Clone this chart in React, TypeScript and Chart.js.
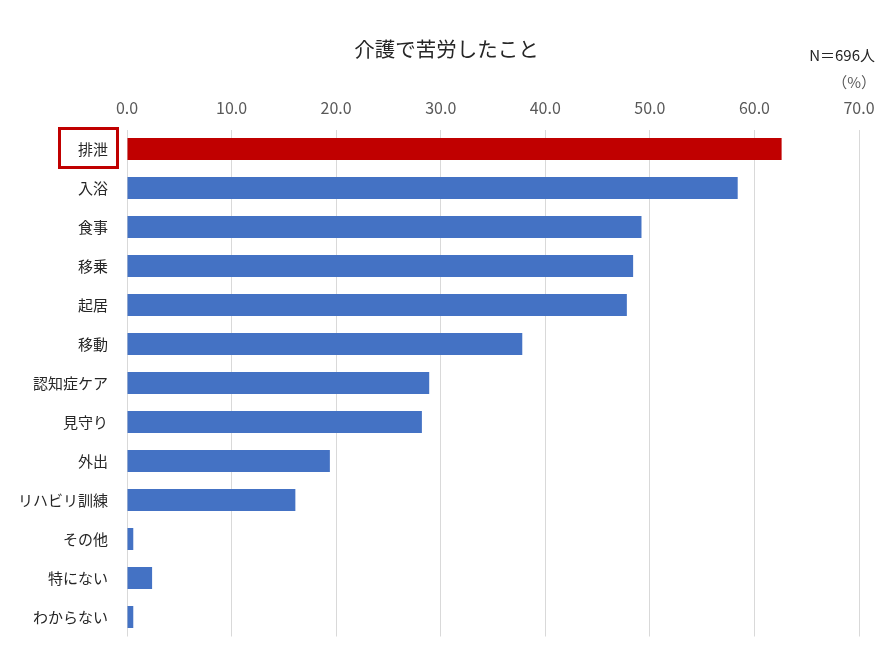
import React, { useEffect, useRef } from "react";
import { Chart, registerables } from "chart.js";

Chart.register(...registerables);

const categories = [
  "排泄",
  "入浴",
  "食事",
  "移乗",
  "起居",
  "移動",
  "認知症ケア",
  "見守り",
  "外出",
  "リハビリ訓練",
  "その他",
  "特にない",
  "わからない",
];
const values = [62.6, 58.4, 49.2, 48.4, 47.8, 37.8, 28.9, 28.2, 19.4, 16.1, 0.6, 2.4, 0.6];
const highlightIndex = 0;
const xMin = 0;
const xMax = 70;
const xStep = 10;
const chartTitle = "介護で苦労したこと";
const sampleNote = "N＝696人";
const unitNote = "（%）";

const FONT = "'Noto Sans CJK JP', 'Noto Sans', sans-serif";
const BLUE = "#4472C4";
const RED = "#C00000";

const overlayPlugin = {
  id: "overlay",
  afterDraw(chart: any) {
    const ctx = chart.ctx;
    const area = chart.chartArea;
    const yScale = chart.scales.y;
    ctx.save();
    // title
    ctx.fillStyle = "#262626";
    ctx.font = `20.5px ${FONT}`;
    ctx.textAlign = "center";
    ctx.textBaseline = "middle";
    ctx.fillText(chartTitle, chart.width / 2, 49);
    // N note
    ctx.font = `15px ${FONT}`;
    ctx.textAlign = "right";
    ctx.fillStyle = "#262626";
    ctx.fillText(sampleNote, 875, 55);
    ctx.fillStyle = "#595959";
    ctx.fillText(unitNote, 876, 82);
    // highlight box around category label
    const cy = yScale.getPixelForValue(highlightIndex);
    ctx.strokeStyle = RED;
    ctx.lineWidth = 3;
    ctx.strokeRect(area.left - 67.5, cy - 20.5, 58, 39);
    ctx.restore();
  },
};

export default function App() {
  const ref = useRef<HTMLCanvasElement | null>(null);
  useEffect(() => {
    if (!ref.current) return;
    const chart = new Chart(ref.current, {
      type: "bar",
      data: {
        labels: categories,
        datasets: [
          {
            data: values,
            backgroundColor: values.map((_, i) => (i === highlightIndex ? RED : BLUE)),
            categoryPercentage: 1,
            barPercentage: 0.565,
          },
        ],
      },
      options: {
        indexAxis: "y",
        animation: false,
        responsive: true,
        maintainAspectRatio: false,
        layout: { padding: { top: 90, left: 0, right: 34, bottom: 15.5 } },
        plugins: {
          legend: { display: false },
          tooltip: { enabled: false },
          title: { display: false },
        },
        scales: {
          x: {
            position: "top",
            min: xMin,
            max: xMax,
            afterFit: (s: any) => {
              s.height = 39.5;
            },
            ticks: {
              stepSize: xStep,
              padding: 12,
              color: "#595959",
              font: { family: FONT, size: 16 },
              callback: (v: any) => Number(v).toFixed(1),
            },
            grid: { color: "#d9d9d9", lineWidth: 1, drawTicks: false },
            border: { display: false },
          },
          y: {
            afterFit: (s: any) => {
              s.width = 127;
              s.paddingTop = 0;
              s.paddingBottom = 0;
            },
            ticks: {
              padding: 19,
              color: "#262626",
              font: { family: FONT, size: 15 },
            },
            grid: { display: false, drawTicks: false },
            border: { display: false },
          },
        },
      },
      plugins: [overlayPlugin],
    });
    return () => chart.destroy();
  }, []);
  return (
    <div style={{ position: "absolute", left: 0, top: 0, width: 893, height: 652, background: "#fff" }}>
      <canvas ref={ref} />
    </div>
  );
}
